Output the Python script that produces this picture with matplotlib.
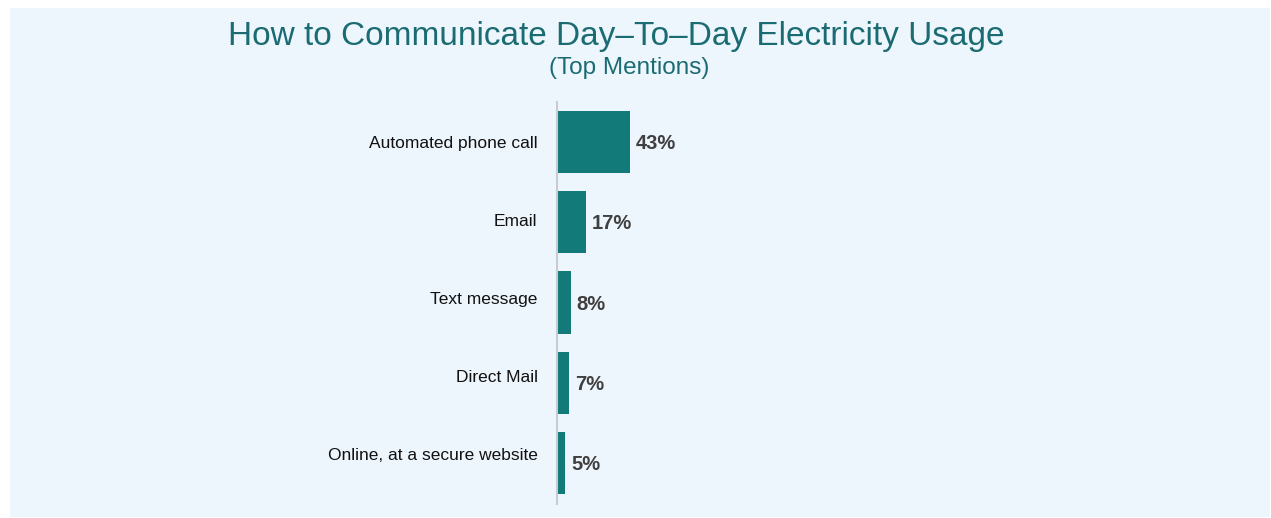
import matplotlib.pyplot as plt
from matplotlib.patches import Rectangle
from matplotlib.transforms import ScaledTranslation

categories = ["Automated phone call", "Email", "Text message", "Direct Mail",
              "Online, at a secure website"]
values = [43, 17, 8, 7, 5]
value_labels = ["43%", "17%", "8%", "7%", "5%"]

title = "How to Communicate Day\u2013To\u2013Day Electricity Usage"
subtitle = "(Top Mentions)"

W, H = 1271, 518
bg = "#EEF6FD"
teal = "#137A7A"
title_color = "#1B6B73"

plt.rcParams["font.family"] = ["Liberation Sans", "DejaVu Sans"]

fig = plt.figure(figsize=(W / 100, H / 100), dpi=100)
fig.patch.set_facecolor("white")

# light panel behind the chart
fig.patches.append(Rectangle((10 / W, 1 - 517 / H), 1260 / W, 509 / H,
                             transform=fig.transFigure, facecolor=bg,
                             edgecolor="none", zorder=-10))

fig.text(616 / W, 1 - 37 / H, title, ha="center", va="center",
         fontsize=24, color=title_color)
fig.text(629 / W, 1 - 68 / H, subtitle, ha="center", va="center",
         fontsize=17.5, color=title_color)

ax_left, ax_right = 557, 1240
ax_top, ax_bottom = 102, 504
ax = fig.add_axes([ax_left / W, 1 - ax_bottom / H,
                   (ax_right - ax_left) / W, (ax_bottom - ax_top) / H])
ax.set_zorder(1)
ax.set_facecolor("none")

pos = list(range(len(categories)))
ax.barh(pos, values, height=0.775, color=teal, zorder=2)
ax.set_xlim(0, (ax_right - ax_left) / 1.69)
ax.set_ylim(4.5125, -0.5)

for p, v, lab in zip(pos, values, value_labels):
    ax.annotate(lab, (v, p), xytext=(4.5, -1.2), textcoords="offset points",
                ha="left", va="center", fontsize=14.5, fontweight="bold",
                color="#404040")

ax.set_yticks(pos)
ax.set_yticklabels(categories, fontsize=12.5, color="#111111")
ax.tick_params(axis="y", length=0, pad=14)

# category labels sit on a slightly tighter pitch than the bars
label_lift_px = [0, 2, 4.5, 6.5, 9]
for lbl, lift in zip(ax.get_yticklabels(), label_lift_px):
    lbl.set_transform(lbl.get_transform() +
                      ScaledTranslation(0, lift / 100, fig.dpi_scale_trans))

ax.set_xticks([])
for s in ["top", "right", "bottom"]:
    ax.spines[s].set_visible(False)
ax.spines["left"].set_color("#C8CCD0")
ax.spines["left"].set_linewidth(1.5)

fig.savefig("out.png", dpi=100, facecolor=fig.get_facecolor())
